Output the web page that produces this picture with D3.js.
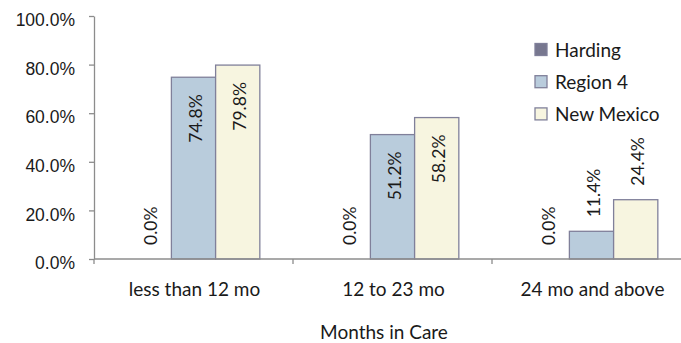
<!DOCTYPE html>
<html><head><meta charset="utf-8">
<script src="https://cdn.jsdelivr.net/npm/d3@7/dist/d3.min.js"></script>
<style>body{margin:0;background:#fff;} svg{display:block;font-family:Lato,"Open Sans",sans-serif;}</style>
</head><body>
<script>
const categories = ["less than 12 mo", "12 to 23 mo", "24 mo and above"];
const seriesNames = ["Harding", "Region 4", "New Mexico"];
const harding = [0.0, 0.0, 0.0];
const region4 = [0.748, 0.512, 0.114];
const newMexico = [0.798, 0.582, 0.244];
const yTicks = [0, 0.2, 0.4, 0.6, 0.8, 1.0];
const xTitle = "Months in Care";
const colors = ["#77778F", "#B9CCDC", "#F7F5E0"];
const borderColor = "#80809A";

(function () {
const W = 681, H = 343;
const svg = d3.select("body").append("svg").attr("width", W).attr("height", H);
const mLeft = 94, mBottom = 259, mTop = 16;
const x0 = d3.scaleBand().domain(categories).range([mLeft, mLeft + 597]).paddingInner(0).paddingOuter(0);
const x1 = d3.scaleBand().domain(seriesNames).range([0, x0.bandwidth()]).paddingInner(0).paddingOuter(0.75);
const y = d3.scaleLinear().domain([0, 1]).range([mBottom, mTop]);
const fmt = d3.format(".1%");
const values = [harding, region4, newMexico];
const axisColor = "#8C8C8C";
const numSize = 17.5, txtSize = 19;

// y axis
const yAxis = svg.append("g").attr("transform", `translate(${mLeft},0)`)
  .call(d3.axisLeft(y).tickValues(yTicks).tickFormat(fmt).tickSize(5).tickPadding(14).tickSizeOuter(0));
yAxis.select(".domain").attr("stroke", axisColor).attr("stroke-width", 1.3);
yAxis.selectAll(".tick line").attr("stroke", axisColor).attr("stroke-width", 1.3);
yAxis.selectAll(".tick text").attr("font-size", numSize).attr("fill", "#1a1a1a").attr("dy", "0.55em");

// bars
const groups = svg.append("g").selectAll("g").data(categories).join("g")
  .attr("transform", d => `translate(${x0(d)},0)`);
seriesNames.forEach((s, si) => {
  groups.append("rect")
    .attr("x", x1(s)).attr("width", x1.bandwidth())
    .attr("y", (d, ci) => y(values[si][ci]))
    .attr("height", (d, ci) => mBottom - y(values[si][ci]))
    .attr("fill", colors[si]).attr("stroke", borderColor).attr("stroke-width", 1.3)
    .attr("display", (d, ci) => values[si][ci] > 0 ? null : "none");
});

// x axis
svg.append("line").attr("x1", mLeft).attr("x2", W).attr("y1", mBottom).attr("y2", mBottom)
  .attr("stroke", axisColor).attr("stroke-width", 1.3);
categories.forEach(c => {
  svg.append("line").attr("x1", x0(c)).attr("x2", x0(c)).attr("y1", mBottom).attr("y2", mBottom + 5)
    .attr("stroke", axisColor).attr("stroke-width", 1.3);
  svg.append("text").attr("x", x0(c) + x0.bandwidth() / 2 + 1).attr("y", 296)
    .attr("text-anchor", "middle").attr("font-size", txtSize).attr("fill", "#1a1a1a").text(c);
});

// data labels
seriesNames.forEach((s, si) => {
  categories.forEach((c, ci) => {
    const v = values[si][ci];
    const cx = x0(c) + x1(s) + x1.bandwidth() / 2 + 8;
    const inside = v > 0.3;
    const yy = inside ? y(v) + 17 : y(v) - 14;
    svg.append("text")
      .attr("transform", `translate(${cx},${yy}) rotate(-90)`)
      .attr("text-anchor", inside ? "end" : "start")
      .attr("font-size", numSize).attr("fill", "#1a1a1a").text(fmt(v));
  });
});

// legend
const legend = svg.append("g");
seriesNames.forEach((s, i) => {
  const ly = 49.5 + i * 32.2;
  legend.append("rect").attr("x", 535).attr("y", ly - 6).attr("width", 12).attr("height", 12)
    .attr("fill", colors[i]).attr("stroke", borderColor).attr("stroke-width", 1.3);
  legend.append("text").attr("x", 555).attr("y", ly + 7).attr("font-size", txtSize).attr("fill", "#1a1a1a").text(s);
});

// x title
svg.append("text").attr("x", 384).attr("y", 339).attr("text-anchor", "middle")
  .attr("font-size", txtSize).attr("fill", "#1a1a1a").text(xTitle);
})();
</script>
</body></html>
